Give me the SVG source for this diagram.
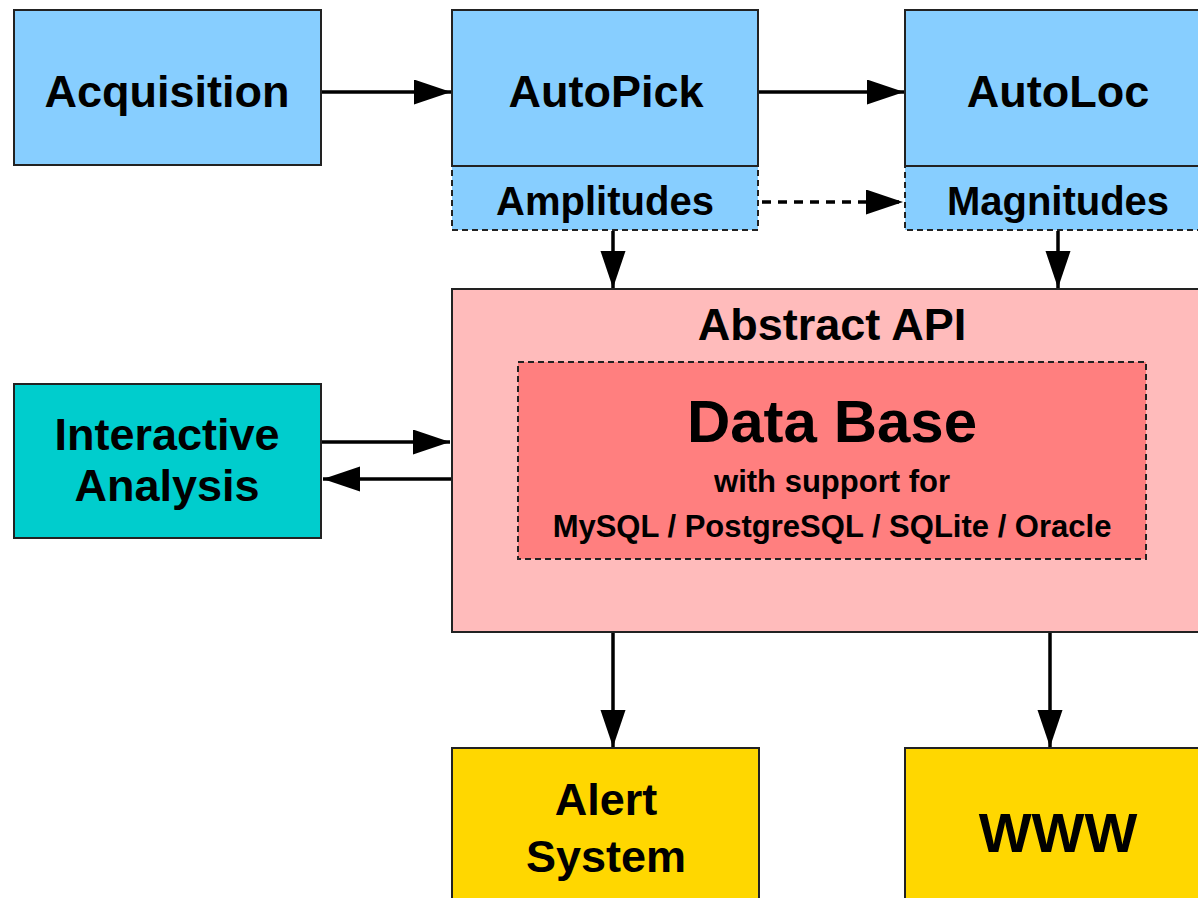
<svg xmlns="http://www.w3.org/2000/svg" width="1198" height="898" viewBox="0 0 1198 898">
  <style>
    .box { stroke: #222; stroke-width: 2; }
    .dash { stroke: #222; stroke-width: 2; stroke-dasharray: 6 4; }
    .blue { fill: #87CEFF; }
    .teal { fill: #00CDCD; }
    .api { fill: #FFBBBB; }
    .db { fill: #FF7F7F; }
    .gold { fill: #FFD700; }
    text { font-family: "Liberation Sans", Arial, sans-serif; font-weight: bold; fill: #000; text-anchor: middle; }
    .big { font-size: 45px; }
    .mid { font-size: 40px; }
    .small { font-size: 31px; }
    .conn { stroke: #000; stroke-width: 3.5; fill: none; marker-end: url(#arrow); }
    .conn.dashed { stroke-dasharray: 9 7; }
  </style>
  <defs>
    <marker id="arrow" markerUnits="userSpaceOnUse" markerWidth="38" markerHeight="26" refX="37" refY="12.5" orient="auto">
      <path d="M0,0 L37,12.5 L0,25 z" fill="#000"/>
    </marker>
  </defs>

  <rect width="1198" height="898" fill="#fff"/>

  <g id="acquisition">
    <rect class="box blue" x="14" y="10" width="307" height="155"/>
    <text class="big" x="167" y="107">Acquisition</text>
  </g>

  <g id="amplitudes">
    <rect class="dash blue" x="452" y="166" width="306" height="64"/>
    <text class="mid" x="605" y="215">Amplitudes</text>
  </g>
  <g id="autopick">
    <rect class="box blue" x="452" y="10" width="306" height="156"/>
    <text class="big" x="606" y="107">AutoPick</text>
  </g>

  <g id="magnitudes">
    <rect class="dash blue" x="905" y="166" width="307" height="64"/>
    <text class="mid" x="1058" y="215">Magnitudes</text>
  </g>
  <g id="autoloc">
    <rect class="box blue" x="905" y="10" width="307" height="156"/>
    <text class="big" x="1058" y="107">AutoLoc</text>
  </g>

  <g id="interactive-analysis">
    <rect class="box teal" x="14" y="384" width="307" height="154"/>
    <text class="big" x="167" y="450">Interactive</text>
    <text class="big" x="167" y="501">Analysis</text>
  </g>

  <g id="abstract-api">
    <rect class="box api" x="452" y="289" width="760" height="343"/>
    <text class="big" x="832" y="340">Abstract API</text>
  </g>

  <g id="database">
    <rect class="dash db" x="518" y="362" width="628" height="197"/>
    <text x="832" y="442" style="font-size:60px">Data Base</text>
    <text class="small" x="832" y="492">with support for</text>
    <text class="small" x="832" y="537">MySQL / PostgreSQL / SQLite / Oracle</text>
  </g>

  <g id="alert-system">
    <rect class="box gold" x="452" y="748" width="307" height="160"/>
    <text class="big" x="606" y="815">Alert</text>
    <text class="big" x="606" y="872">System</text>
  </g>

  <g id="www">
    <rect class="box gold" x="905" y="748" width="307" height="160"/>
    <text x="1058" y="852" style="font-size:56px">WWW</text>
  </g>

  <g id="connectors">
    <line class="conn" x1="322" y1="92" x2="451" y2="92"/>
    <line class="conn" x1="759" y1="92" x2="904" y2="92"/>
    <line class="conn dashed" x1="762" y1="202" x2="903" y2="202"/>
    <line class="conn" x1="613" y1="231" x2="613" y2="288"/>
    <line class="conn" x1="1058" y1="231" x2="1058" y2="288"/>
    <line class="conn" x1="322" y1="442" x2="450" y2="442"/>
    <line class="conn" x1="451" y1="479" x2="323" y2="479"/>
    <line class="conn" x1="613" y1="633" x2="613" y2="747"/>
    <line class="conn" x1="1050" y1="633" x2="1050" y2="747"/>
  </g>
</svg>
